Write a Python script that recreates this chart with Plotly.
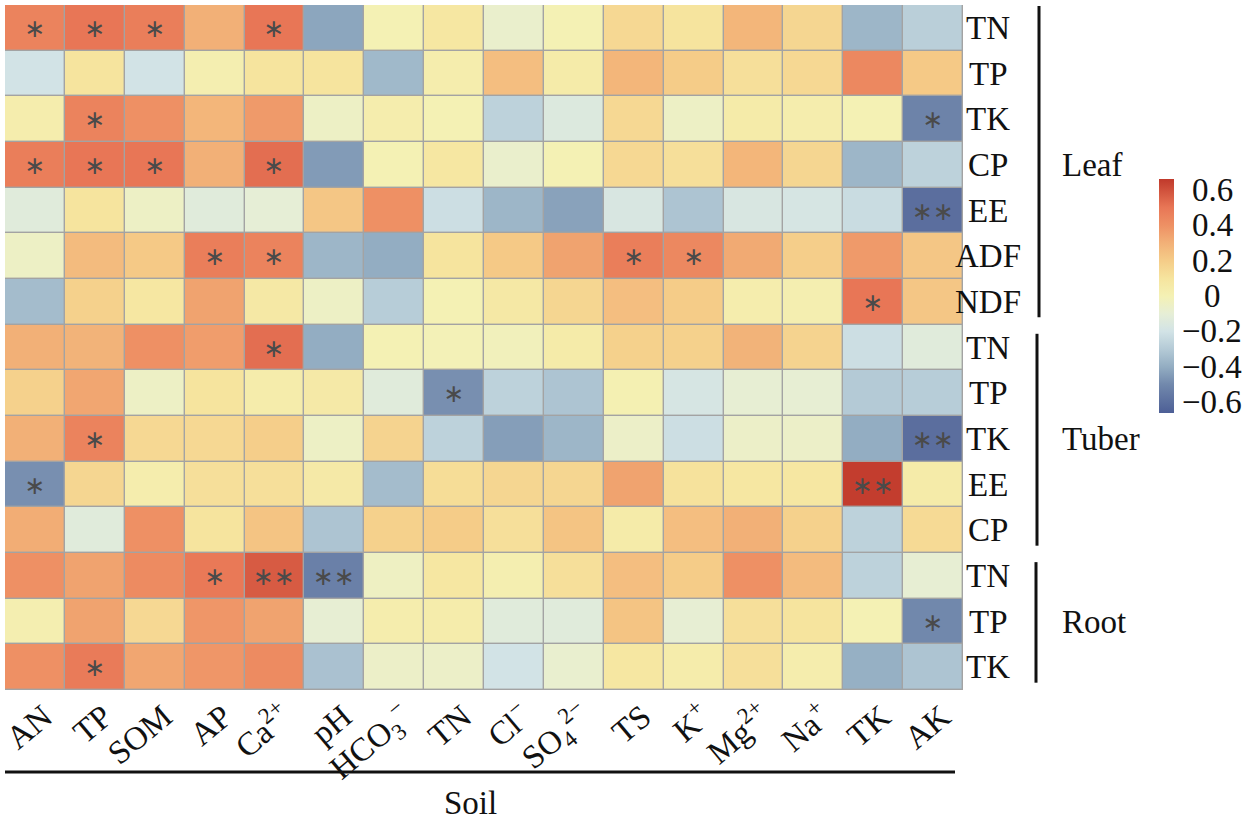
import plotly.graph_objects as go

# ---------------- data ----------------
soil_labels = ["AN", "TP", "SOM", "AP", "Ca<sup>2+</sup>", "pH", "HCO<sub>3</sub><sup>−</sup>", "TN",
               "Cl<sup>−</sup>", "SO<sub>4</sub><sup>2−</sup>", "TS", "K<sup>+</sup>", "Mg<sup>2+</sup>",
               "Na<sup>+</sup>", "TK", "AK"]
plant_labels = ["TN", "TP", "TK", "CP", "EE", "ADF", "NDF",
                "TN", "TP", "TK", "EE", "CP",
                "TN", "TP", "TK"]
groups = ["Leaf", "Tuber", "Root"]
group_sizes = [7, 5, 3]

leaf_tn  = [0.45, 0.50, 0.47, 0.30, 0.50, -0.42, 0.00, 0.08, -0.07, 0.00, 0.15, 0.10, 0.28, 0.16, -0.37, -0.28]
leaf_tp  = [-0.20, 0.10, -0.20, 0.02, 0.10, 0.10, -0.36, 0.03, 0.25, 0.05, 0.28, 0.20, 0.12, 0.15, 0.43, 0.21]
leaf_tk  = [0.03, 0.45, 0.40, 0.28, 0.37, -0.05, 0.03, 0.00, -0.27, -0.15, 0.15, -0.05, 0.05, 0.03, 0.00, -0.52]
leaf_cp  = [0.47, 0.50, 0.50, 0.30, 0.52, -0.45, 0.00, 0.08, -0.07, 0.00, 0.15, 0.12, 0.28, 0.16, -0.37, -0.27]
leaf_ee  = [-0.13, 0.10, -0.05, -0.13, -0.10, 0.22, 0.40, -0.22, -0.37, -0.43, -0.17, -0.32, -0.17, -0.18, -0.23, -0.60]
leaf_adf = [-0.05, 0.26, 0.21, 0.47, 0.45, -0.37, -0.40, 0.10, 0.21, 0.34, 0.47, 0.43, 0.32, 0.19, 0.37, 0.22]
leaf_ndf = [-0.35, 0.18, 0.08, 0.34, 0.07, -0.05, -0.29, 0.00, 0.07, 0.16, 0.25, 0.20, 0.03, 0.02, 0.50, 0.22]
tub_tn   = [0.30, 0.29, 0.40, 0.36, 0.52, -0.40, 0.00, -0.01, -0.02, 0.05, 0.18, 0.18, 0.29, 0.17, -0.22, -0.13]
tub_tp   = [0.18, 0.33, -0.05, 0.10, 0.04, 0.06, -0.13, -0.48, -0.27, -0.32, 0.01, -0.18, -0.09, -0.09, -0.30, -0.29]
tub_tk   = [0.30, 0.45, 0.15, 0.15, 0.19, -0.05, 0.17, -0.27, -0.44, -0.37, -0.06, -0.22, -0.06, -0.06, -0.40, -0.60]
tub_ee   = [-0.48, 0.16, 0.03, 0.12, 0.12, 0.06, -0.35, 0.13, 0.16, 0.16, 0.34, 0.11, 0.08, 0.08, 0.65, 0.05]
tub_cp   = [0.31, -0.13, 0.40, 0.10, 0.23, -0.32, 0.18, 0.20, 0.12, 0.23, 0.05, 0.25, 0.30, 0.18, -0.27, 0.14]
root_tn  = [0.40, 0.34, 0.42, 0.49, 0.57, -0.53, -0.04, 0.08, 0.02, 0.12, 0.25, 0.20, 0.40, 0.26, -0.27, -0.09]
root_tp  = [0.02, 0.34, 0.15, 0.38, 0.34, -0.09, 0.03, 0.04, -0.13, -0.13, 0.23, -0.09, 0.12, 0.10, 0.00, -0.50]
root_tk  = [0.40, 0.48, 0.33, 0.38, 0.42, -0.33, -0.06, -0.06, -0.20, -0.08, 0.08, 0.04, 0.12, 0.03, -0.39, -0.32]

# significance marks (column index -> mark)
sig_leaf_tn  = {0: "*", 1: "*", 2: "*", 4: "*"}
sig_leaf_tp  = {}
sig_leaf_tk  = {1: "*", 15: "*"}
sig_leaf_cp  = {0: "*", 1: "*", 2: "*", 4: "*"}
sig_leaf_ee  = {15: "**"}
sig_leaf_adf = {3: "*", 4: "*", 10: "*", 11: "*"}
sig_leaf_ndf = {14: "*"}
sig_tub_tn   = {4: "*"}
sig_tub_tp   = {7: "*"}
sig_tub_tk   = {1: "*", 15: "**"}
sig_tub_ee   = {0: "*", 14: "**"}
sig_tub_cp   = {}
sig_root_tn  = {3: "*", 4: "**", 5: "**"}
sig_root_tp  = {15: "*"}
sig_root_tk  = {1: "*"}

z = [leaf_tn, leaf_tp, leaf_tk, leaf_cp, leaf_ee, leaf_adf, leaf_ndf,
     tub_tn, tub_tp, tub_tk, tub_ee, tub_cp,
     root_tn, root_tp, root_tk]
sigs = [sig_leaf_tn, sig_leaf_tp, sig_leaf_tk, sig_leaf_cp, sig_leaf_ee, sig_leaf_adf, sig_leaf_ndf,
        sig_tub_tn, sig_tub_tp, sig_tub_tk, sig_tub_ee, sig_tub_cp,
        sig_root_tn, sig_root_tp, sig_root_tk]
star_text = [[s.get(j, "").replace("*", "∗") for j in range(len(soil_labels))] for s in sigs]

cb_ticks = [0.6, 0.4, 0.2, 0, -0.2, -0.4, -0.6]
cb_ticktext = ["0.6", "0.4", "0.2", "0", "−0.2", "−0.4", "−0.6"]

# ---------------- styling ----------------
ZMIN, ZMAX = -0.66, 0.66
stops = [(-0.66, "#4d5f96"), (-0.5, "#7188ac"), (-0.4, "#93adc2"), (-0.3, "#b4cad6"),
         (-0.2, "#d2e3e6"), (-0.1, "#e6eed6"), (0.0, "#f4f1b4"), (0.1, "#f6e49e"),
         (0.2, "#f5cc88"), (0.3, "#f2b077"), (0.4, "#ee9064"), (0.5, "#e87656"),
         (0.66, "#c0392b")]
colorscale = [[(v - ZMIN) / (ZMAX - ZMIN), c] for v, c in stops]

FONT = "Liberation Serif, Times New Roman, serif"
FS = 33
W, H = 1242, 827
ML, MR, MT, MB = 5, 279, 5, 137
PW = W - ML - MR
PH = H - MT - MB

def px_to_paper_x(px):
    return (px - ML) / PW

def px_to_paper_y(py):
    return (MT + PH - py) / PH

ncols = len(soil_labels)
nrows = len(plant_labels)

CB_TOP, CB_BOT = 179, 413
cb_len = (CB_BOT - CB_TOP) / PH
cb_ymid = px_to_paper_y((CB_TOP + CB_BOT) / 2)

fig = go.Figure()
fig.add_trace(go.Heatmap(
    z=z,
    x=list(range(ncols)),
    y=list(range(nrows)),
    text=star_text,
    texttemplate="%{text}",
    textfont=dict(family="DejaVu Sans", size=25, color="#4a4a4a"),
    colorscale=colorscale,
    zmin=ZMIN, zmax=ZMAX,
    xgap=1.4, ygap=1.4,
    hoverinfo="z",
    colorbar=dict(
        tickvals=cb_ticks, showticklabels=False,
        thickness=15, len=cb_len, lenmode="fraction",
        x=px_to_paper_x(1159), xanchor="left",
        y=cb_ymid, yanchor="middle",
        outlinewidth=0, ticks="",
        xpad=0, ypad=0,
    ),
))

fig.update_layout(
    width=W, height=H,
    margin=dict(l=ML, r=MR, t=MT, b=MB, autoexpand=False),
    paper_bgcolor="white",
    plot_bgcolor="#a3a3a3",
    font=dict(family=FONT, size=FS, color="#111"),
    xaxis=dict(
        tickvals=list(range(ncols)), ticktext=soil_labels,
        tickangle=-40, tickfont=dict(family=FONT, size=FS, color="#111"),
        ticklabeloverflow="allow", ticklabelshift=9,
        showgrid=False, zeroline=False, ticks="", range=[-0.5, ncols - 0.5],
        showline=False, automargin=False,
    ),
    yaxis=dict(
        showticklabels=False, showgrid=False, zeroline=False, ticks="",
        range=[nrows - 0.5, -0.5], automargin=False,
    ),
    showlegend=False,
)

# colorbar tick labels (centred, as in the reference)
for v, t in zip(cb_ticks, cb_ticktext):
    frac = (v - ZMIN) / (ZMAX - ZMIN)
    ypx = CB_BOT - frac * (CB_BOT - CB_TOP)
    fig.add_annotation(x=px_to_paper_x(1212), xref="paper", y=px_to_paper_y(ypx), yref="paper",
                       text=t, showarrow=False, xanchor="center", yanchor="middle",
                       font=dict(family=FONT, size=FS, color="#111"))

# row labels on the right
for i, lab in enumerate(plant_labels):
    fig.add_annotation(x=px_to_paper_x(988), xref="paper", y=i, yref="y",
                       text=lab, showarrow=False, xanchor="center", yanchor="middle",
                       font=dict(family=FONT, size=FS, color="#111"))

# group brackets and labels
start = 0
bracket_x = [1039, 1037, 1036]
for g, n, bx in zip(groups, group_sizes, bracket_x):
    y0 = start - 0.48 + (0.18 if start > 0 else 0)
    y1 = start + n - 1 + 0.34
    fig.add_shape(type="line", xref="paper", yref="y",
                  x0=px_to_paper_x(bx), x1=px_to_paper_x(bx), y0=y0, y1=y1,
                  line=dict(color="#111", width=3))
    fig.add_annotation(x=px_to_paper_x(1060), xref="paper", y=start + (n - 1) / 2, yref="y",
                       text=g, showarrow=False, xanchor="left", yanchor="middle",
                       font=dict(family=FONT, size=FS, color="#111"))
    start += n

# soil bracket at the bottom
fig.add_shape(type="line", xref="paper", yref="paper",
              x0=px_to_paper_x(5), x1=px_to_paper_x(955),
              y0=px_to_paper_y(772), y1=px_to_paper_y(772),
              line=dict(color="#111", width=3))
fig.add_annotation(x=px_to_paper_x(470), xref="paper", y=px_to_paper_y(803), yref="paper",
                   text="Soil", showarrow=False, xanchor="center", yanchor="middle",
                   font=dict(family=FONT, size=FS, color="#111"))

fig.write_html("out.html",
               config={"displayModeBar": False},
               post_script="document.body.style.margin='0';document.body.style.overflow='hidden';")
